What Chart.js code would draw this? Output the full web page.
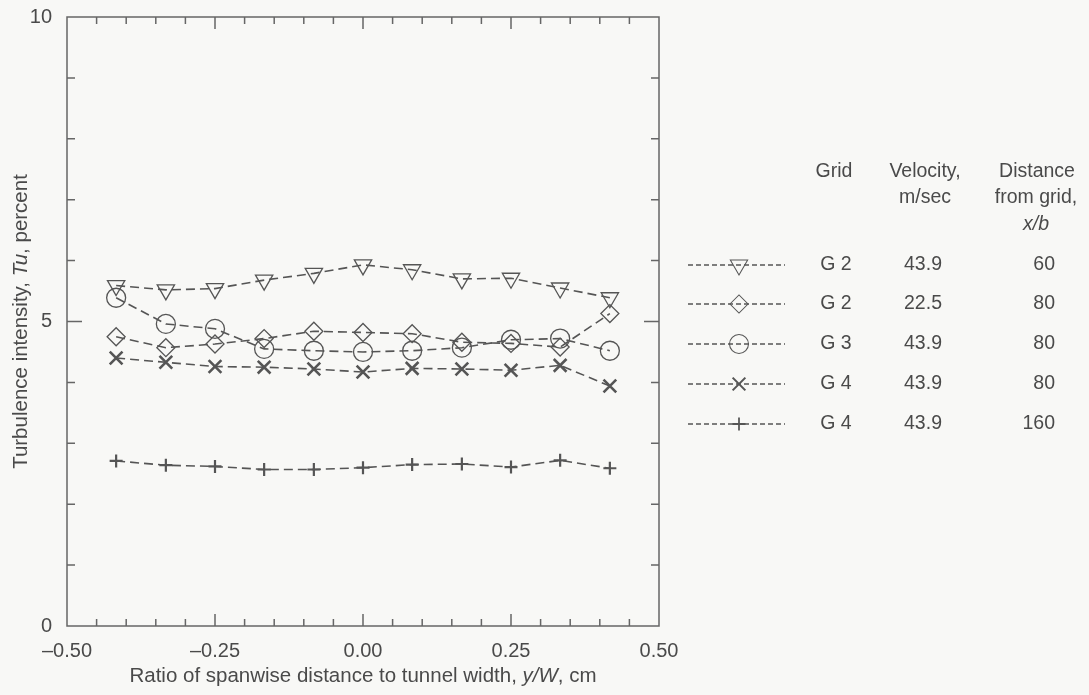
<!DOCTYPE html>
<html><head><meta charset="utf-8">
<script src="https://cdn.jsdelivr.net/npm/chart.js@4.4.1/dist/chart.umd.min.js"></script>
<style>html,body{margin:0;padding:0;background:#f8f8f6;}canvas{display:block}</style>
</head><body>
<canvas id="c" width="1089" height="695"></canvas>
<script>
// ---- data ----
const xPositions = [-0.417, -0.333, -0.25, -0.167, -0.083, 0, 0.083, 0.167, 0.25, 0.333, 0.417];
const g2v439x60  = [5.59, 5.52, 5.54, 5.68, 5.79, 5.93, 5.85, 5.70, 5.71, 5.55, 5.39];
const g2v225x80  = [4.75, 4.57, 4.63, 4.72, 4.84, 4.82, 4.80, 4.66, 4.64, 4.58, 5.13];
const g3v439x80  = [5.39, 4.96, 4.88, 4.55, 4.52, 4.50, 4.52, 4.57, 4.70, 4.72, 4.52];
const g4v439x80  = [4.40, 4.33, 4.26, 4.25, 4.22, 4.17, 4.23, 4.22, 4.20, 4.28, 3.94];
const g4v439x160 = [2.71, 2.64, 2.62, 2.57, 2.57, 2.60, 2.65, 2.66, 2.61, 2.72, 2.59];
const xTickLabels = [-0.5, -0.25, 0, 0.25, 0.5];
const yTickLabels = [0, 5, 10];
const legendGrid = ['G 2', 'G 2', 'G 3', 'G 4', 'G 4'];
const legendVelocity = ['43.9', '22.5', '43.9', '43.9', '43.9'];
const legendDistance = ['60', '80', '80', '80', '160'];

const FONT = '"Liberation Sans", Arial, Helvetica, sans-serif';
const TXT = '#4a4a4a';
const LINE = '#555';

const markerStyles = [
  {pointStyle: 'triangle', rotation: 180, radius: 10, width: 1.3},
  {pointStyle: 'rectRot', rotation: 0, radius: 9, width: 1.3},
  {pointStyle: 'circle', rotation: 0, radius: 9.5, width: 1.3},
  {pointStyle: 'crossRot', rotation: 0, radius: 9, width: 2.6},
  {pointStyle: 'cross', rotation: 0, radius: 6.5, width: 2.2}
];
const seriesValues = [g2v439x60, g2v225x80, g3v439x80, g4v439x80, g4v439x160];

const datasets = seriesValues.map((vals, i) => ({
  label: legendGrid[i] + ' ' + legendVelocity[i] + ' ' + legendDistance[i],
  data: xPositions.map((x, j) => ({x: x, y: vals[j]})),
  showLine: true,
  borderColor: LINE,
  borderWidth: 1.6,
  borderDash: [9, 5],
  pointStyle: markerStyles[i].pointStyle,
  pointRotation: markerStyles[i].rotation,
  pointRadius: markerStyles[i].radius,
  pointBorderWidth: markerStyles[i].width,
  pointBorderColor: LINE,
  pointBackgroundColor: 'rgba(0,0,0,0)',
  fill: false
}));

function drawRich(ctx, parts, x, y, size) {
  let total = 0;
  const widths = parts.map(p => {
    ctx.font = (p[1] ? 'italic ' : '') + size + 'px ' + FONT;
    const w = ctx.measureText(p[0]).width;
    total += w;
    return w;
  });
  let cx = x - total / 2;
  parts.forEach((p, i) => {
    ctx.font = (p[1] ? 'italic ' : '') + size + 'px ' + FONT;
    ctx.textAlign = 'left';
    ctx.fillText(p[0], cx, y);
    cx += widths[i];
  });
}

const framePlugin = {
  id: 'frame',
  beforeDraw(chart) {
    const ctx = chart.ctx;
    ctx.save();
    ctx.fillStyle = '#f8f8f6';
    ctx.fillRect(0, 0, chart.width, chart.height);
    ctx.restore();
  },
  afterDatasetsDraw(chart) {
    const ctx = chart.ctx;
    const a = chart.chartArea;
    const xs = chart.scales.x, ys = chart.scales.y;
    ctx.save();
    ctx.strokeStyle = '#666';
    ctx.lineWidth = 1.5;
    ctx.setLineDash([]);
    ctx.strokeRect(a.left, a.top, a.right - a.left, a.bottom - a.top);
    ctx.beginPath();
    for (let k = 1; k < 20; k++) {
      const v = -0.5 + k * 0.05;
      const px = xs.getPixelForValue(v);
      const len = (k % 5 === 0) ? 12 : 7;
      ctx.moveTo(px, a.bottom); ctx.lineTo(px, a.bottom - len);
      ctx.moveTo(px, a.top); ctx.lineTo(px, a.top + len);
    }
    for (let k = 1; k < 10; k++) {
      const py = ys.getPixelForValue(k);
      const len = (k === 5) ? 15 : 8;
      ctx.moveTo(a.left, py); ctx.lineTo(a.left + len, py);
      ctx.moveTo(a.right, py); ctx.lineTo(a.right - len, py);
    }
    ctx.stroke();

    // axis titles
    ctx.fillStyle = TXT;
    ctx.textBaseline = 'middle';
    drawRich(ctx, [['Ratio of spanwise distance to tunnel width, ', false], ['y/W', true], [', cm', false]],
      (a.left + a.right) / 2, 676, 20.5);
    ctx.save();
    ctx.translate(21, (a.top + a.bottom) / 2);
    ctx.rotate(-Math.PI / 2);
    drawRich(ctx, [['Turbulence intensity, ', false], ['Tu', true], [', percent', false]], 0, 0, 20.5);
    ctx.restore();

    // legend table
    const LF = 19.5;
    ctx.textBaseline = 'middle';
    ctx.font = LF + 'px ' + FONT;
    ctx.textAlign = 'center';
    ctx.fillText('Grid', 834, 172);
    ctx.fillText('Velocity,', 925, 172);
    ctx.fillText('m/sec', 925, 198);
    ctx.fillText('Distance', 1037, 172);
    ctx.fillText('from grid,', 1036, 198);
    ctx.font = 'italic ' + LF + 'px ' + FONT;
    ctx.fillText('x/b', 1036, 225);
    const rowY = [265, 304, 344, 384, 424];
    for (let i = 0; i < 5; i++) {
      const y = rowY[i];
      ctx.strokeStyle = LINE;
      ctx.lineWidth = 1.3;
      ctx.setLineDash([5, 3]);
      ctx.beginPath();
      ctx.moveTo(688, y); ctx.lineTo(785, y);
      ctx.stroke();
      ctx.setLineDash([]);
      const m = markerStyles[i];
      ctx.lineWidth = m.width * 0.8;
      ctx.fillStyle = 'rgba(0,0,0,0)';
      Chart.helpers.drawPoint(ctx, {pointStyle: m.pointStyle, rotation: m.rotation, radius: m.radius, borderWidth: m.width}, 739, y);
      ctx.fillStyle = TXT;
      ctx.font = LF + 'px ' + FONT;
      ctx.textAlign = 'center';
      ctx.fillText(legendGrid[i], 836, y);
      ctx.fillText(legendVelocity[i], 923, y);
      ctx.textAlign = 'right';
      ctx.fillText(legendDistance[i], 1055, y);
    }
    ctx.restore();
  }
};

new Chart(document.getElementById('c'), {
  type: 'scatter',
  data: {datasets: datasets},
  plugins: [framePlugin],
  options: {
    responsive: false,
    animation: false,
    events: [],
    layout: {padding: {left: 0, right: 430, top: 17, bottom: 0}},
    plugins: {legend: {display: false}, tooltip: {enabled: false}},
    scales: {
      x: {
        type: 'linear', min: -0.5, max: 0.5,
        afterBuildTicks: s => { s.ticks = xTickLabels.map(v => ({value: v})); },
        afterFit: s => { s.height = 69; s.paddingLeft = 0; s.paddingRight = 0; },
        grid: {display: false, drawTicks: false},
        border: {display: false},
        ticks: {
          color: TXT, padding: 13, maxRotation: 0, autoSkip: false,
          font: {family: FONT, size: 20},
          callback: v => (v < 0 ? '\u2013' : '') + Math.abs(v).toFixed(2)
        }
      },
      y: {
        type: 'linear', min: 0, max: 10,
        afterBuildTicks: s => { s.ticks = yTickLabels.map(v => ({value: v})); },
        afterFit: s => { s.width = 67; s.paddingTop = 0; s.paddingBottom = 0; },
        grid: {display: false, drawTicks: false},
        border: {display: false},
        ticks: {
          color: TXT, padding: 15, autoSkip: false,
          font: {family: FONT, size: 20},
          callback: v => String(v)
        }
      }
    }
  }
});
</script>
</body></html>
